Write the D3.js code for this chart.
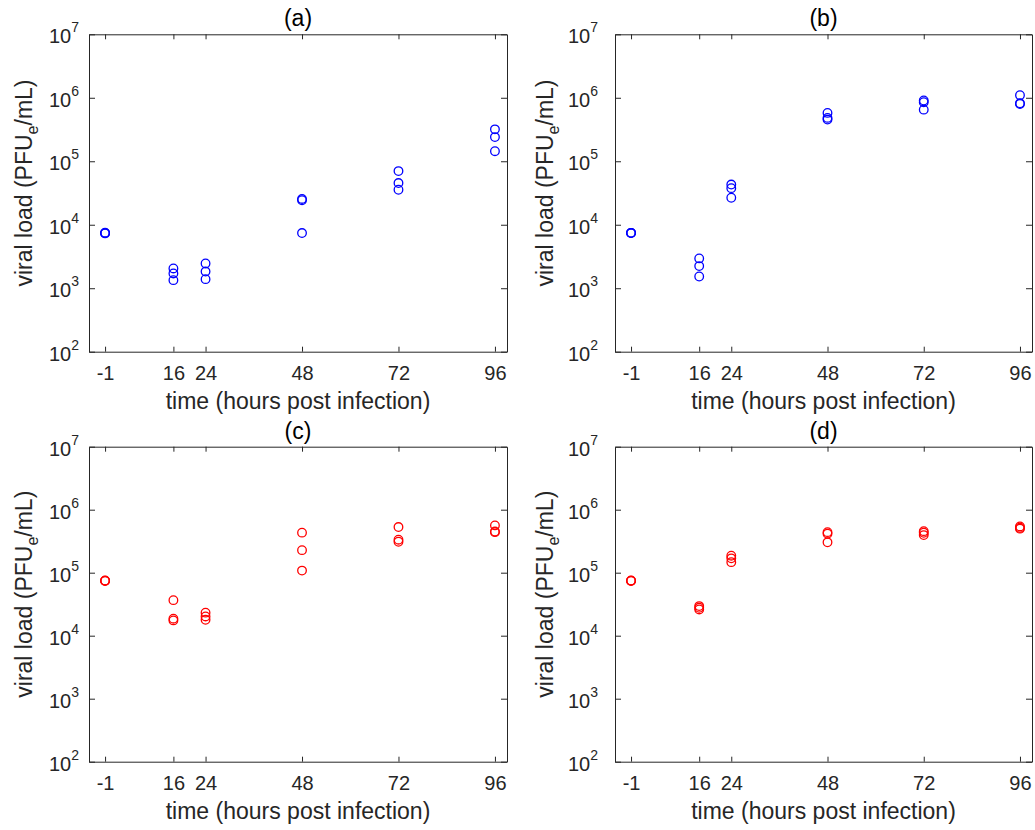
<!DOCTYPE html>
<html>
<head>
<meta charset="utf-8">
<script src="https://cdn.jsdelivr.net/npm/d3@7"></script>
<style>
  body { margin: 0; background: #fff; }
  svg { font-family: "Liberation Sans", Arial, sans-serif; }
</style>
</head>
<body>
<div id="chart"></div>
<script>
// sampling times (hours post infection)
var times = [-1, 16, 24, 48, 72, 96];
var yTicks = [2, 3, 4, 5, 6, 7];

// three replicates per time point, PFUe/mL
var panelA = [[7.4e3, 7.5e3, 7.3e3], [2.05e3, 1.71e3, 1.34e3], [2.45e3, 1.83e3, 1.39e3],
              [2.55e4, 2.43e4, 7.4e3], [7.0e4, 4.54e4, 3.56e4], [3.18e5, 2.4e5, 1.44e5]];
var panelB = [[7.4e3, 7.4e3, 7.45e3], [2.95e3, 2.23e3, 1.53e3], [4.3e4, 3.77e4, 2.66e4],
              [5.78e5, 4.82e5, 4.53e5], [9.06e5, 8.5e5, 6.5e5], [1.1e6, 8.0e5, 8.2e5]];
var panelC = [[7.46e4, 7.5e4, 7.4e4], [3.67e4, 1.86e4, 1.75e4], [2.32e4, 2.02e4, 1.79e4],
              [4.32e5, 2.28e5, 1.08e5], [5.3e5, 3.34e5, 3.1e5], [5.63e5, 4.4e5, 4.5e5]];
var panelD = [[7.46e4, 7.4e4, 7.5e4], [2.95e4, 2.78e4, 2.61e4], [1.86e5, 1.69e5, 1.47e5],
              [4.4e5, 4.16e5, 3.03e5], [4.57e5, 4.31e5, 3.95e5], [5.43e5, 5.17e5, 5.0e5]];

var titles = ["(a)", "(b)", "(c)", "(d)"];
var colors = ["#0000ff", "#0000ff", "#ff0000", "#ff0000"];
var datasets = [panelA, panelB, panelC, panelD];

var W = 1035, H = 830;
var axisColor = "#262626";

var svg = d3.select("#chart").append("svg")
  .attr("width", W).attr("height", H);

// panel frames: [left, right, top, bottom], plus label offsets per column
var frames = [
  {l: 89, r: 507, t: 34.3, b: 351.7, tickGap: 10, labGap: 57},
  {l: 615, r: 1032, t: 34.3, b: 351.7, tickGap: 17, labGap: 62},
  {l: 89, r: 507, t: 446.7, b: 761.7, tickGap: 10, labGap: 57},
  {l: 615, r: 1032, t: 446.7, b: 761.7, tickGap: 17, labGap: 62}
];

frames.forEach(function(f, i) {
  var w = f.r - f.l, h = f.b - f.t;
  var g = svg.append("g").attr("transform", "translate(" + f.l + "," + f.t + ")");

  var x = d3.scaleLinear().domain([-5, 99]).range([0, w]);
  var y = d3.scaleLog().domain([1e2, 1e7]).range([h, 0]);
  var yVals = yTicks.map(function(p) { return Math.pow(10, p); });

  // axes with inward ticks, mirrored on top/right (box on)
  var bottom = g.append("g").attr("transform", "translate(0," + h + ")")
    .call(d3.axisBottom(x).tickValues(times).tickSize(-5).tickSizeOuter(0).tickFormat(String));
  g.append("g")
    .call(d3.axisTop(x).tickValues(times).tickSize(-5).tickSizeOuter(0).tickFormat(""));
  g.append("g")
    .call(d3.axisLeft(y).tickValues(yVals).tickSize(-6).tickSizeOuter(0).tickFormat(""));
  g.append("g").attr("transform", "translate(" + w + ",0)")
    .call(d3.axisRight(y).tickValues(yVals).tickSize(-6).tickSizeOuter(0).tickFormat(""));

  g.selectAll(".domain").attr("stroke", axisColor).attr("stroke-width", 1);
  g.selectAll(".tick line").attr("stroke", axisColor).attr("stroke-width", 1);

  bottom.selectAll(".tick text")
    .attr("y", 28).attr("dy", null)
    .attr("fill", axisColor)
    .style("font-size", "20px")
    .style("font-family", "'Liberation Sans', Arial, sans-serif");

  // y tick labels as 10^n
  var yl = g.append("g");
  yTicks.forEach(function(p) {
    var t = yl.append("text")
      .attr("x", -f.tickGap)
      .attr("y", y(Math.pow(10, p)) + 9)
      .attr("text-anchor", "end")
      .attr("fill", axisColor)
      .style("font-size", "20px");
    t.append("tspan").text("10");
    t.append("tspan").attr("dy", -11).style("font-size", "14px").text(p);
  });

  // markers
  var pts = [];
  datasets[i].forEach(function(reps, k) {
    reps.forEach(function(v) { pts.push({t: times[k], v: v}); });
  });
  g.selectAll("circle.pt").data(pts).enter().append("circle")
    .attr("class", "pt")
    .attr("cx", function(d) { return x(d.t); })
    .attr("cy", function(d) { return y(d.v); })
    .attr("r", 4.3)
    .attr("fill", "none")
    .attr("stroke", colors[i])
    .attr("stroke-width", 1.3);

  // title
  g.append("text")
    .attr("x", w / 2).attr("y", -8)
    .attr("text-anchor", "middle")
    .attr("fill", "#000")
    .style("font-size", "23px")
    .text(titles[i]);

  // x label
  g.append("text")
    .attr("x", w / 2).attr("y", h + 57)
    .attr("text-anchor", "middle")
    .attr("fill", axisColor)
    .style("font-size", "23px")
    .text("time (hours post infection)");

  // y label
  var ylab = g.append("text")
    .attr("transform", "translate(" + (-f.labGap) + "," + (h / 2 - 10) + ") rotate(-90)")
    .attr("text-anchor", "middle")
    .attr("fill", axisColor)
    .style("font-size", "23px");
  ylab.append("tspan").text("viral load (PFU");
  ylab.append("tspan").attr("dy", 6).style("font-size", "16px").text("e");
  ylab.append("tspan").attr("dy", -6).text("/mL)");
});
</script>
</body>
</html>
